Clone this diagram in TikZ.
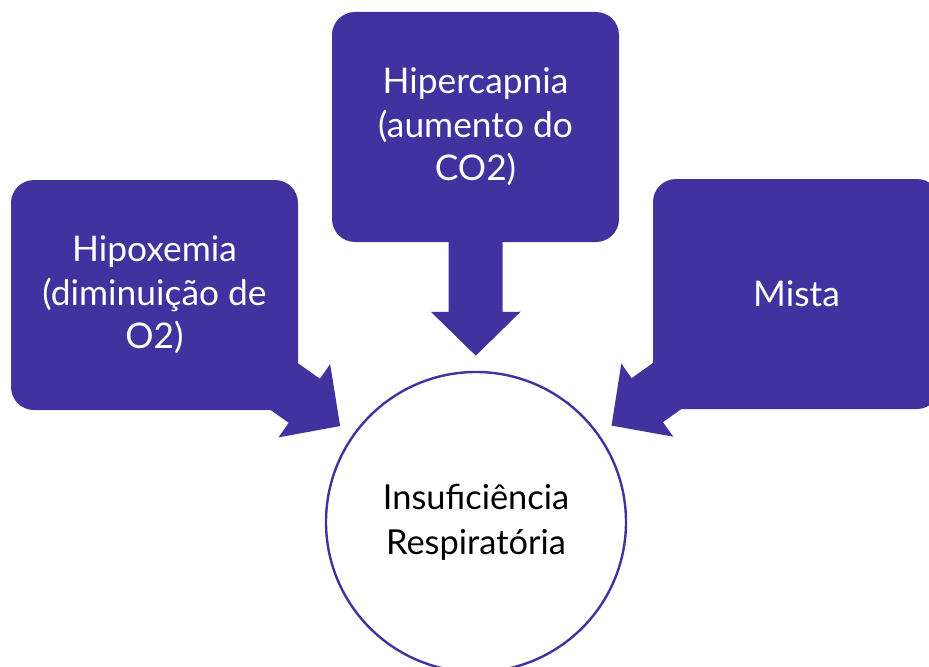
\documentclass[tikz,border=0pt]{standalone}
\usepackage{fontspec}
\setmainfont{Lato}
\usetikzlibrary{arrows.meta,backgrounds}
\definecolor{purp}{RGB}{66,50,160}
\tikzset{
  box/.style={fill=purp, draw=none, rounded corners=17.25pt, minimum width=215.25pt,
    minimum height=172.5pt, text=white, align=center, inner sep=0pt,
    font=\fontsize{26.5}{32.5}\selectfont},
  hub/.style={circle, fill=white, draw=purp, line width=1.8pt, minimum size=225pt,
    inner sep=0pt, align=center, text=black, font=\fontsize{25.8}{33.5}\selectfont},
  blockarrow/.style={draw=purp, line width=40.5pt, line cap=butt,
    -{Triangle[length=33pt,width=65.25pt]}, shorten >=11.25pt}
}
\begin{document}
\begin{tikzpicture}[x=0.75pt,y=-0.75pt]
\useasboundingbox (0,0) rectangle (929,667);
\clip (0,0) rectangle (929,667);
\node[box] (hipo) at (154.5,295) {Hipoxemia\\(diminuição de\\O2)};
\node[box] (hiper) at (475.5,127) {Hipercapnia\\(aumento do\\CO2)};
\node[box] (mista) at (796.5,294) {Mista};
\node[hub] (ir) at (476,522) {Insuficiência\\Respiratória};
\begin{scope}[on background layer]
\draw[blockarrow] (hipo.center) -- (ir);
\draw[blockarrow] (hiper.center) -- (ir);
\draw[blockarrow] (mista.center) -- (ir);
\end{scope}
\end{tikzpicture}
\end{document}
